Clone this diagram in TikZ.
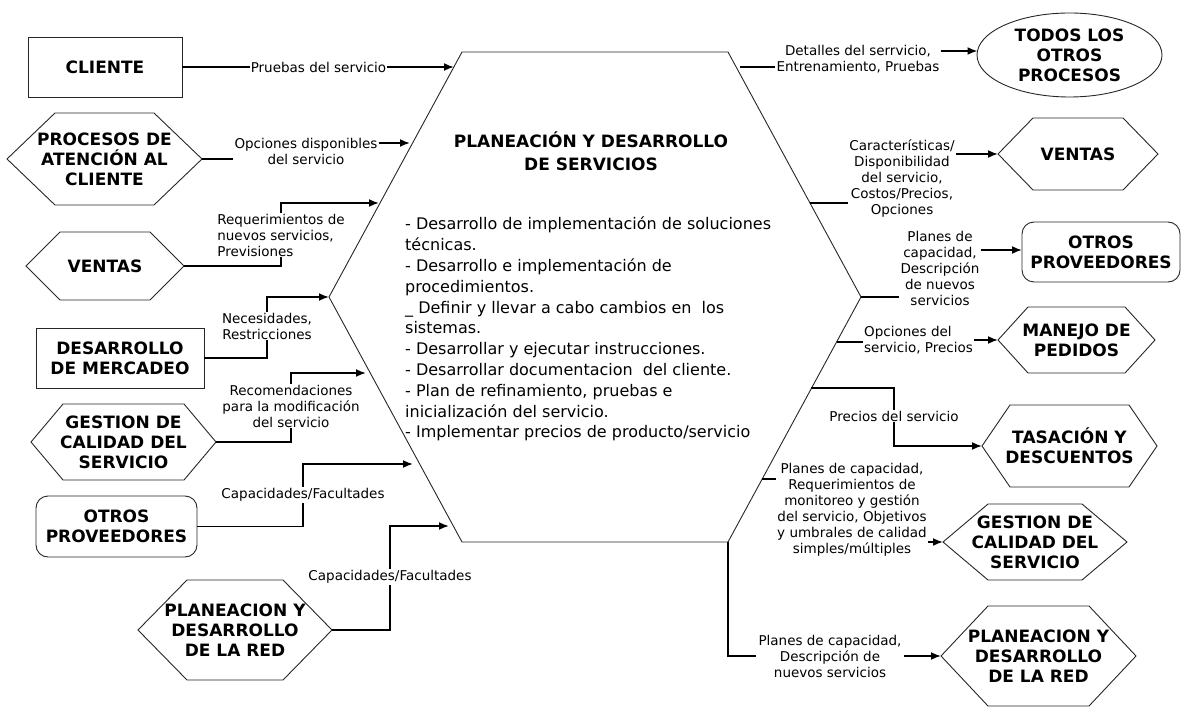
\documentclass[tikz,border=0pt]{standalone}
\usepackage{fontspec}
\setmainfont{DejaVu Sans}
\usetikzlibrary{arrows.meta,shapes.geometric}

\tikzset{
  shapeline/.style={draw=black!85, line width=0.9pt},
  boxtext/.style={font=\fontsize{17}{20}\selectfont\bfseries, align=center, inner sep=0pt},
  lbl/.style={font=\fontsize{13.5}{16}\selectfont, align=center, inner sep=1pt},
  cover/.style={lbl, fill=white},
  conn/.style={line width=1.8pt},
  arr/.style={conn, -{Latex[length=10pt,width=8pt]}},
  rectbox/.style={shapeline, boxtext, rectangle},
  roundbox/.style={shapeline, boxtext, rectangle, rounded corners=12pt},
}

% hexagonal process box: name, x, y, half width, half height, slant, text
\newcommand{\hexagonbox}[7]{%
  \draw[shapeline] ({#2-#4},{#3}) -- ({#2-#4+#6},{#3-#5}) -- ({#2+#4-#6},{#3-#5})
    -- ({#2+#4},{#3}) -- ({#2+#4-#6},{#3+#5}) -- ({#2-#4+#6},{#3+#5}) -- cycle;
  \coordinate (#1-w) at ({#2-#4},{#3});
  \coordinate (#1-e) at ({#2+#4},{#3});
  \node[boxtext] (#1) at (#2,#3) {#7};
}

\begin{document}
\begin{tikzpicture}[x=1pt, y=-1pt]
\useasboundingbox (0,0) rectangle (1182,708);

% central process
\coordinate (H1) at (462,52);
\coordinate (H2) at (728,52);
\coordinate (H3) at (861,297);
\coordinate (H4) at (728,542);
\coordinate (H5) at (462,542);
\coordinate (H6) at (329,297);
\draw[shapeline] (H1) -- (H2) -- (H3) -- (H4) -- (H5) -- (H6) -- cycle;
\node[font=\fontsize{17}{23}\selectfont\bfseries, align=center] (title) at (591,151)
  {PLANEACIÓN Y DESARROLLO\\DE SERVICIOS};
\node[font=\fontsize{16}{20.8}\selectfont, align=left, anchor=north west, inner sep=0pt] (body) at (405,217)
  {- Desarrollo de implementación de soluciones\\
   técnicas.\\
   - Desarrollo e implementación de\\
   procedimientos.\\
   \_ Definir y llevar a cabo cambios en\ \ los\\
   sistemas.\\
   - Desarrollar y ejecutar instrucciones.\\
   - Desarrollar documentacion\ \ del cliente.\\
   - Plan de refinamiento, pruebas e\\
   inicialización del servicio.\\
   - Implementar precios de producto/servicio};

% points on the central border
\coordinate (in1) at (454,67);
\coordinate (in2) at (410,143);
\coordinate (in3) at (379,203);
\coordinate (in5) at (366,373);
\coordinate (in6) at (413,464);
\coordinate (in7) at (449,526);
\coordinate (o1) at (740,67);
\coordinate (o2) at (810,203);
\coordinate (o4) at (837,342);
\coordinate (o5) at (811,388);
\coordinate (o6) at (762,479);

% inputs
\node[rectbox, minimum width=154pt, minimum height=60pt] (cliente) at (105,67) {CLIENTE};
\hexagonbox{proc}{104.5}{159}{97.5}{46}{48}{PROCESOS DE\\ATENCIÓN AL\\CLIENTE}
\hexagonbox{ventasL}{105}{266}{79}{34}{34}{VENTAS}
\node[rectbox, minimum width=168pt, minimum height=60pt] (merc) at (120,358) {DESARROLLO\\DE MERCADEO};
\hexagonbox{gestL}{123.5}{442}{92.5}{38}{32}{GESTION DE\\CALIDAD DEL\\SERVICIO}
\node[roundbox, minimum width=161pt, minimum height=61pt] (otrosL) at (116.5,526.5) {OTROS\\PROVEEDORES};
\hexagonbox{planL}{235}{630}{97}{50}{49}{PLANEACION Y\\DESARROLLO\\DE LA RED}

% outputs
\node[shapeline, boxtext, ellipse, minimum width=185pt, minimum height=84pt] (todos) at (1069.5,55) {TODOS LOS\\OTROS\\PROCESOS};
\hexagonbox{ventasR}{1078}{154}{80}{36}{35}{VENTAS}
\node[roundbox, minimum width=158pt, minimum height=60pt] (otrosR) at (1101,252) {OTROS\\PROVEEDORES};
\hexagonbox{manejo}{1076.5}{340}{78.5}{33}{30}{MANEJO DE\\PEDIDOS}
\hexagonbox{tasa}{1069.5}{446}{87.5}{41}{28}{TASACIÓN Y\\DESCUENTOS}
\hexagonbox{gestR}{1035}{542}{92}{38}{45}{GESTION DE\\CALIDAD DEL\\SERVICIO}
\hexagonbox{planR}{1038.5}{656}{97.5}{50}{47}{PLANEACION Y\\DESARROLLO\\DE LA RED}

% input flows
\draw[arr] (cliente.east) -- (in1);
\node[cover, inner sep=0.5pt] (l1) at (318.5,67) {Pruebas del servicio};

\node[lbl] (l2) at (306,151) {Opciones disponibles\\del servicio};
\draw[conn] (proc-e) -- (l2.west |- proc-e);
\draw[arr] (l2.east |- in2) -- (in2);

\node[lbl, align=left] (l3) at (281,235) {Requerimientos de\\nuevos servicios,\\Previsiones};
\draw[arr] (ventasL-e) -| (l3.center |- in3) -- (in3);
\node[cover, align=left] at (l3) {Requerimientos de\\nuevos servicios,\\Previsiones};

\draw[arr] (merc.east) -| (267,297) -- (H6);
\node[cover] (l4) at (267,326) {Necesidades,\\Restricciones};

\draw[arr] (gestL-e) -| (291,373) -- (in5);
\node[cover] (l5) at (291,406) {Recomendaciones\\para la modificación\\del servicio};

\draw[arr] (otrosL.east) -| (303,464) -- (in6);
\node[cover] (l6) at (303,495) {Capacidades/Facultades};

\draw[arr] (planL-e) -| (390,526) -- (in7);
\node[cover] (l7) at (390,577) {Capacidades/Facultades};

% output flows
\node[lbl] (r1) at (858,59) {Detalles del serrvicio,\\Entrenamiento, Pruebas};
\coordinate (a1) at (977.5,51);
\draw[conn] (o1) -- (r1.west |- o1);
\draw[arr] (r1.east |- a1) -- (a1);

\node[lbl] (r2) at (902,179) {Características/\\Disponibilidad\\del servicio,\\Costos/Precios,\\Opciones};
\draw[conn] (o2) -- (r2.west |- o2);
\draw[arr] (r2.east |- ventasR-w) -- (ventasR-w);

\node[lbl] (r3) at (940,268) {Planes de\\capacidad,\\Descripción\\de nuevos\\servicios};
\coordinate (a3) at (1022,250);
\draw[conn] (H3) -- (r3.west |- H3);
\draw[arr] (r3.east |- a3) -- (a3);

\node[lbl, align=left, anchor=west] (r4) at (863,340) {Opciones del\\servicio, Precios};
\draw[conn] (o4) -- (r4.west |- o4);
\draw[arr] (r4.east |- manejo-w) -- (manejo-w);

\draw[arr] (o5) -| (894,446) -- (tasa-w);
\node[cover] (r5) at (894,416) {Precios del servicio};

\node[lbl] (r6) at (852,510) {Planes de capacidad,\\Requerimientos de\\monitoreo y gestión\\del servicio, Objetivos\\y umbrales de calidad\\simples/múltiples};
\draw[conn] (o6) -- (r6.west |- o6);
\draw[arr] (r6.east |- gestR-w) -- (gestR-w);

\node[lbl, inner sep=2pt] (r7) at (830,656) {Planes de capacidad,\\Descripción de\\nuevos servicios};
\draw[conn] (H4) |- (r7.west);
\draw[arr] (r7.east) -- (planR-w);
\end{tikzpicture}
\end{document}
